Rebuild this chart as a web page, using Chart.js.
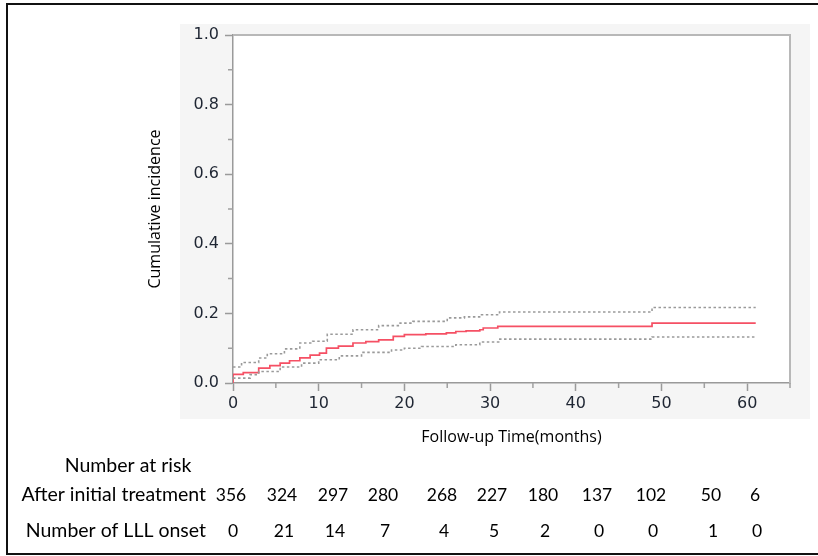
<!DOCTYPE html>
<html>
<head>
<meta charset="utf-8">
<script src="https://cdn.jsdelivr.net/npm/chart.js@4.4.1/dist/chart.umd.min.js"></script>
<style>
  html, body { margin: 0; padding: 0; background: #fff; }
  #chart { display: block; }
</style>
</head>
<body>
<canvas id="chart" width="818" height="556"></canvas>
<script>
// Cumulative incidence (step curve) and its confidence band
const incTimes = [0, 0, 1.2, 3, 4.3, 5.5, 6.6, 7.8, 9, 10.1, 10.9, 12.3, 14, 15.5, 17, 18.7, 20, 22.5, 24.9, 26, 27.2, 28.8, 29.2, 30.9, 48.9, 61];
const incValues = [0, 0.025, 0.03, 0.043, 0.05, 0.057, 0.064, 0.072, 0.08, 0.086, 0.10, 0.106, 0.115, 0.119, 0.124, 0.134, 0.139, 0.141, 0.144, 0.148, 0.15, 0.153, 0.158, 0.163, 0.172, 0.172];

const upperTimes = [0, 1, 3, 4, 6, 7.8, 9.3, 11, 14, 17, 19.5, 21, 25, 27, 29, 31.1, 48.9, 61];
const upperValues = [0.046, 0.059, 0.072, 0.084, 0.098, 0.115, 0.12, 0.14, 0.153, 0.165, 0.172, 0.177, 0.187, 0.19, 0.196, 0.204, 0.217, 0.217];

const lowerTimes = [0, 2, 3, 5.5, 8, 10, 12.4, 15, 18.5, 20, 22, 26, 28.8, 31, 48.9, 61];
const lowerValues = [0.014, 0.024, 0.033, 0.046, 0.057, 0.067, 0.078, 0.088, 0.095, 0.10, 0.105, 0.11, 0.118, 0.126, 0.132, 0.132];

// Number-at-risk table
const tableTitle = 'Number at risk';
const rowLabels = ['After initial treatment', 'Number of LLL onset'];
const atRisk = [356, 324, 297, 280, 268, 227, 180, 137, 102, 50, 6];
const onsets = [0, 21, 14, 7, 4, 5, 2, 0, 0, 1, 0];

// layout only (pixel centres of the table columns)
const tableColX = [231, 282, 333, 383, 442, 492, 543, 597, 651, 711, 755];
const tableRowY = [495, 531];

const toPoints = (xs, ys) => xs.map((x, i) => ({ x: x, y: ys[i] }));

const isMajorY = v => Math.round(v * 10) % 2 === 0;

const backdrop = {
    id: 'backdrop',
    beforeDraw(chart) {
        const { ctx, chartArea: a } = chart;
        ctx.save();
        ctx.fillStyle = '#fff';
        ctx.fillRect(0, 0, chart.width, chart.height);
        // grey panel behind the plot
        ctx.fillStyle = '#f5f5f5';
        ctx.fillRect(a.left - 53, a.top - 11, a.right - a.left + 73, a.bottom - a.top + 47);
        ctx.fillStyle = '#fff';
        ctx.fillRect(a.left, a.top, a.right - a.left, a.bottom - a.top);
        // outer black frame (open on the right)
        ctx.strokeStyle = '#111';
        ctx.lineWidth = 2;
        ctx.beginPath();
        ctx.moveTo(chart.width + 2, 4);
        ctx.lineTo(7, 4);
        ctx.lineTo(7, 554);
        ctx.lineTo(chart.width + 2, 554);
        ctx.stroke();
        ctx.restore();
    },
    beforeDatasetsDraw(chart) {
        const { ctx, chartArea: a, scales } = chart;
        ctx.save();
        ctx.strokeStyle = '#b8b8b8';
        ctx.lineWidth = 2;
        ctx.beginPath();
        ctx.moveTo(a.left, a.top);
        ctx.lineTo(a.right, a.top);
        ctx.lineTo(a.right, a.bottom);
        ctx.stroke();
        // short minor ticks
        ctx.strokeStyle = '#a0a0a0';
        ctx.lineWidth = 1.5;
        ctx.beginPath();
        scales.x.ticks.forEach(t => {
            if (t.value % 10 !== 0) {
                const px = scales.x.getPixelForValue(t.value);
                ctx.moveTo(px, a.bottom);
                ctx.lineTo(px, a.bottom + 5);
            }
        });
        scales.y.ticks.forEach(t => {
            if (!isMajorY(t.value)) {
                const py = scales.y.getPixelForValue(t.value);
                ctx.moveTo(a.left, py);
                ctx.lineTo(a.left - 5, py);
            }
        });
        ctx.stroke();
        ctx.restore();
    },
    afterDraw(chart) {
        const { ctx } = chart;
        ctx.save();
        ctx.fillStyle = '#000';
        ctx.textBaseline = 'middle';
        ctx.font = '19.5px Lato, "Noto Sans", sans-serif';
        ctx.textAlign = 'center';
        ctx.fillText(tableTitle, 128, 466);
        ctx.textAlign = 'right';
        rowLabels.forEach((lab, r) => ctx.fillText(lab, 206, tableRowY[r]));
        ctx.font = '17.5px Lato, "Noto Sans", sans-serif';
        ctx.textAlign = 'center';
        atRisk.forEach((n, i) => ctx.fillText(String(n), tableColX[i], tableRowY[0]));
        onsets.forEach((n, i) => ctx.fillText(String(n), tableColX[i] + 2, tableRowY[1]));
        ctx.restore();
    }
};

new Chart(document.getElementById('chart'), {
    type: 'line',
    data: {
        datasets: [
            {
                label: 'Upper CI',
                data: toPoints(upperTimes, upperValues),
                borderColor: '#9a9a9a',
                borderWidth: 1.6,
                borderDash: [2.5, 2.5],
                stepped: true,
                pointRadius: 0,
                fill: false
            },
            {
                label: 'Lower CI',
                data: toPoints(lowerTimes, lowerValues),
                borderColor: '#9a9a9a',
                borderWidth: 1.6,
                borderDash: [2.5, 2.5],
                stepped: true,
                pointRadius: 0,
                fill: false
            },
            {
                label: 'Cumulative incidence',
                data: toPoints(incTimes, incValues),
                borderColor: 'rgb(245, 80, 100)',
                borderWidth: 1.7,
                stepped: true,
                pointRadius: 0,
                fill: false
            }
        ]
    },
    options: {
        responsive: false,
        animation: false,
        devicePixelRatio: 1,
        layout: { padding: { left: 146, top: 35, right: 28, bottom: 109 } },
        plugins: {
            legend: { display: false },
            tooltip: { enabled: false }
        },
        scales: {
            x: {
                type: 'linear',
                min: 0,
                max: 65,
                afterFit: s => { s.height = 64; },
                border: { color: '#9a9a9a', width: 1.5 },
                grid: {
                    drawOnChartArea: false,
                    tickLength: 8,
                    tickWidth: 1.5,
                    tickColor: c => (c.tick && c.tick.value % 10 === 0) ? '#9a9a9a' : 'rgba(0,0,0,0)'
                },
                ticks: {
                    stepSize: 5,
                    autoSkip: false,
                    maxRotation: 0,
                    padding: 3,
                    color: '#1f2633',
                    font: { family: '"DejaVu Sans", Verdana, sans-serif', size: 16 },
                    callback: v => (v % 10 === 0 && v <= 60) ? String(v) : ''
                },
                title: {
                    display: true,
                    text: 'Follow-up Time(months)',
                    color: '#000',
                    padding: 0,
                    font: { family: '"Open Sans", sans-serif', size: 16 }
                }
            },
            y: {
                min: 0,
                max: 1,
                afterFit: s => { s.width = 87; },
                border: { color: '#9a9a9a', width: 1.5 },
                grid: {
                    drawOnChartArea: false,
                    tickLength: 8,
                    tickWidth: 1.5,
                    tickColor: c => (c.tick && isMajorY(c.tick.value)) ? '#9a9a9a' : 'rgba(0,0,0,0)'
                },
                ticks: {
                    stepSize: 0.1,
                    autoSkip: false,
                    padding: 6,
                    color: '#1f2633',
                    font: { family: '"DejaVu Sans", Verdana, sans-serif', size: 16 },
                    callback: v => isMajorY(v) ? v.toFixed(1) : ''
                },
                title: {
                    display: true,
                    text: 'Cumulative incidence',
                    color: '#000',
                    padding: 0,
                    font: { family: '"Open Sans", sans-serif', size: 16 }
                }
            }
        }
    },
    plugins: [backdrop]
});
</script>
</body>
</html>
